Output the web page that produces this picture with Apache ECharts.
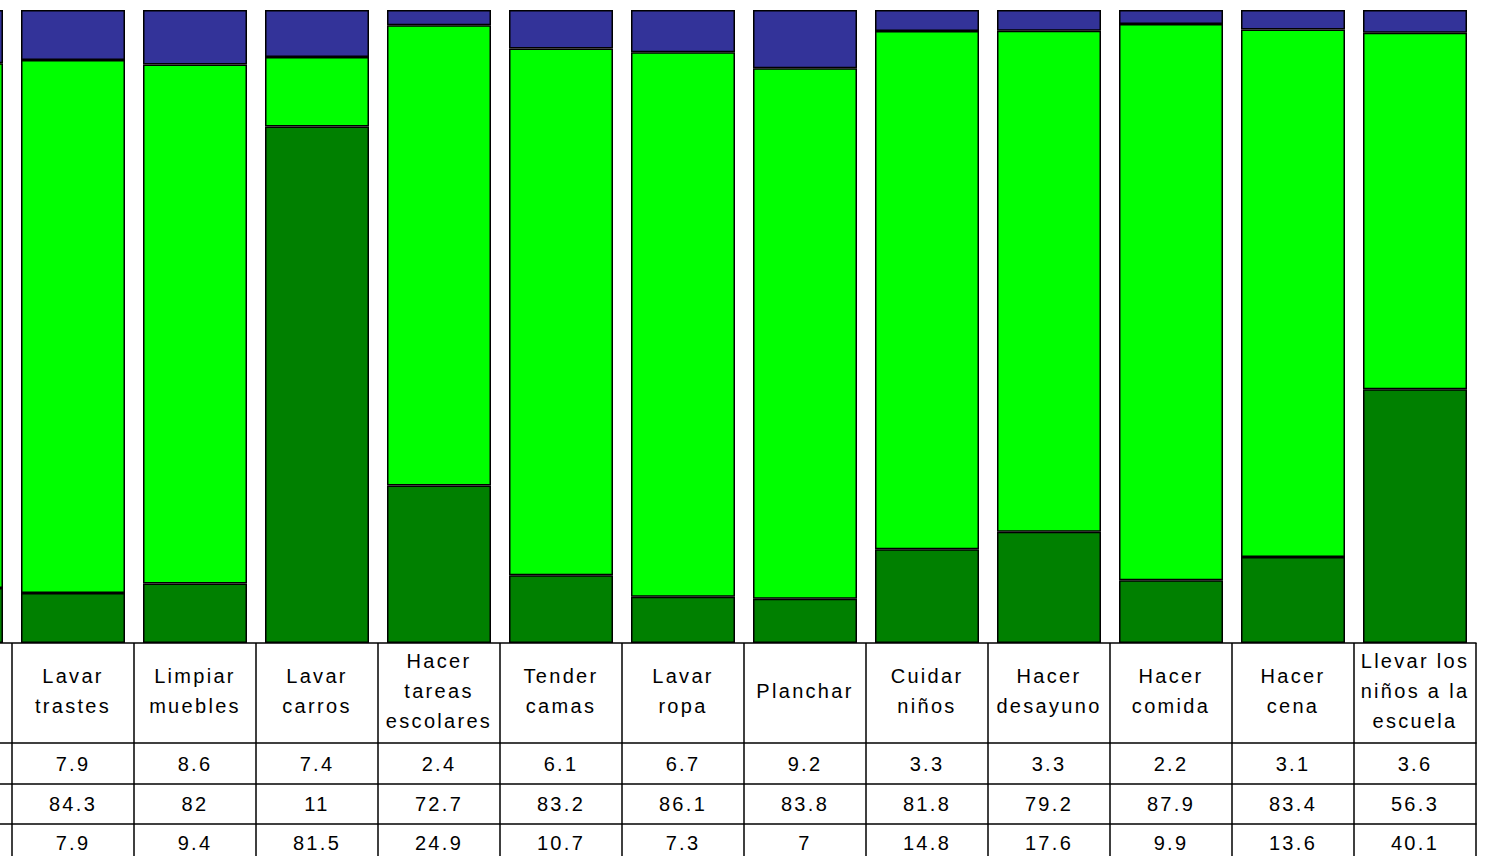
<!DOCTYPE html>
<html>
<head>
<meta charset="utf-8">
<script src="https://cdn.jsdelivr.net/npm/echarts@6/dist/echarts.min.js"></script>
<style>
  html, body { margin: 0; padding: 0; width: 1485px; height: 856px; overflow: hidden; background: #fff; }
  #chart { position: absolute; left: -110px; top: 0; width: 1595px; height: 856px; letter-spacing: 2.3px; }
</style>
</head>
<body>
<div id="chart"></div>
<script>
// Categories (the first column is cut off at the left edge of the picture; its texts are not visible)
const categories = [
  'Barrer',
  'Lavar\ntrastes', 'Limpiar\nmuebles', 'Lavar\ncarros', 'Hacer\ntareas\nescolares',
  'Tender\ncamas', 'Lavar\nropa', 'Planchar', 'Cuidar\nniños', 'Hacer\ndesayuno',
  'Hacer\ncomida', 'Hacer\ncena', 'Llevar los\nniños a la\nescuela'
];
const seriesNames = ['Ambos', 'Mujer', 'Hombre'];
const row1 = [8.4, 7.9, 8.6, 7.4, 2.4, 6.1, 6.7, 9.2, 3.3, 3.3, 2.2, 3.1, 3.6];
const row2 = [82.9, 84.3, 82, 11, 72.7, 83.2, 86.1, 83.8, 81.8, 79.2, 87.9, 83.4, 56.3];
const row3 = [8.7, 7.9, 9.4, 81.5, 24.9, 10.7, 7.3, 7, 14.8, 17.6, 9.9, 13.6, 40.1];
const colors = ['#333399', '#00FF00', '#008000'];

// 100% stacked: share of each row in its column
const totals = categories.map((_, i) => row1[i] + row2[i] + row3[i]);
const share = (arr) => arr.map((v, i) => v / totals[i] * 100);
const hiddenCol = 0; // column lying outside the visible picture

const font = "'Liberation Sans', Arial, sans-serif";
const lineW = 1.5;
const rowAxis = (rows, offset, margin) => ({
  type: 'category',
  data: categories,
  position: 'bottom',
  offset: offset,
  axisLine: { show: true, lineStyle: { color: '#000', width: lineW } },
  axisTick: { show: false },
  axisLabel: {
    interval: 0, margin: margin, verticalAlign: 'middle',
    color: '#000', fontSize: 20, fontFamily: font,
    formatter: (v, i) => i === hiddenCol ? '' : String(rows[i])
  }
});

const chart = echarts.init(document.getElementById('chart'), null, { renderer: 'svg' });
chart.setOption({
  animation: false,
  backgroundColor: '#fff',
  grid: { left: 0, right: 9, top: 10, bottom: 213, containLabel: false },
  xAxis: [
    {
      type: 'category',
      data: categories,
      position: 'bottom',
      axisLine: { show: true, lineStyle: { color: '#000', width: lineW } },
      axisTick: { show: true, interval: 0, length: 230, alignWithLabel: false, lineStyle: { color: '#000', width: lineW } },
      axisLabel: {
        interval: 0, margin: 48, verticalAlign: 'middle', align: 'center',
        color: '#000', fontSize: 20, lineHeight: 30, fontFamily: font,
        formatter: (v, i) => i === hiddenCol ? '' : v
      }
    },
    rowAxis(row1, 100, 21),
    rowAxis(row2, 141, 20),
    rowAxis(row3, 181, 19)
  ],
  yAxis: { type: 'value', min: 0, max: 100, show: false, splitLine: { show: false } },
  series: [
    { name: seriesNames[2], data: share(row3), color: colors[2] },
    { name: seriesNames[1], data: share(row2), color: colors[1] },
    { name: seriesNames[0], data: share(row1), color: colors[0] }
  ].map(s => ({
    type: 'bar', stack: 'total', name: s.name, data: s.data, barWidth: 104,
    xAxisIndex: 0, clip: false,
    itemStyle: { color: s.color, borderColor: '#000', borderWidth: 1.5 }
  }))
});
</script>
</body>
</html>
